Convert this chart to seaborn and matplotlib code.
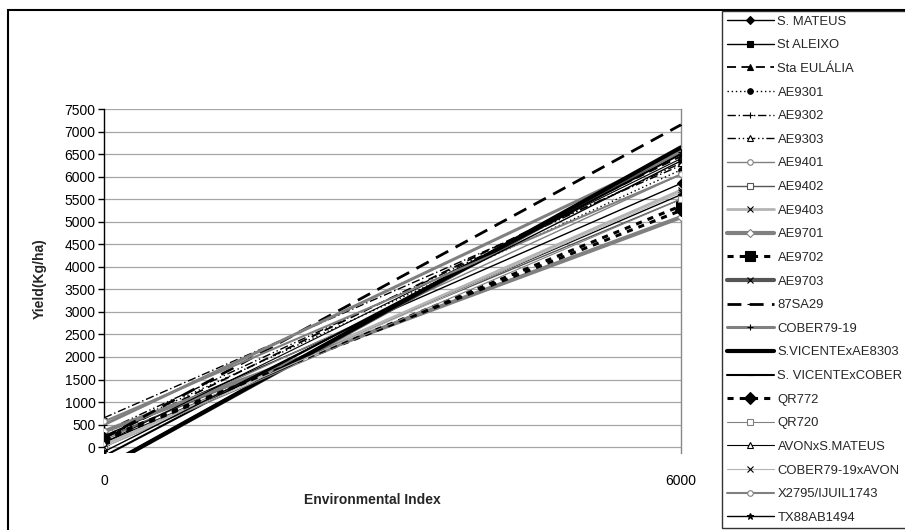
import matplotlib
matplotlib.use("Agg")
import matplotlib.pyplot as plt
import seaborn as sns
import pandas as pd
from matplotlib.patches import Rectangle

# ---------------- data ----------------
genotypes = ["S. MATEUS", "St ALEIXO", "Sta EULÁLIA", "AE9301", "AE9302", "AE9303",
             "AE9401", "AE9402", "AE9403", "AE9701", "AE9702", "AE9703", "87SA29",
             "COBER79-19", "S.VICENTExAE8303", "S. VICENTExCOBER", "QR772", "QR720",
             "AVONxS.MATEUS", "COBER79-19xAVON", "X2795/IJUIL1743", "TX88AB1494"]
yield_at_0 = [250, 100, 200, 300, 650, 350, 150, 200, 50, 350, 150, -450, 200,
              500, -450, -200, 200, 0, 100, 0, 570, -100]
yield_at_6000 = [5850, 5600, 6450, 6150, 6250, 6300, 6050, 5500, 5700, 5100, 5350,
                 6600, 7150, 6550, 6650, 6500, 5250, 5500, 6400, 5650, 6050, 6350]
env_index = [0, 6000]
y_ticks = list(range(0, 7501, 500))

# ---------------- styles ----------------
BLK, GRY, DGR, LGR = "#000000", "#808080", "#555555", "#b4b4b4"
styles = {
    "S. MATEUS":        dict(color=BLK, lw=1.0, ls="-", marker="D", ms=4, mfc=BLK),
    "St ALEIXO":        dict(color=BLK, lw=1.0, ls="-", marker="s", ms=4, mfc=BLK),
    "Sta EULÁLIA":      dict(color=BLK, lw=1.3, ls=(0, (5, 3)), marker="^", ms=5, mfc=BLK),
    "AE9301":           dict(color=BLK, lw=1.0, ls=(0, (1, 2)), marker="o", ms=4, mfc=BLK),
    "AE9302":           dict(color=BLK, lw=1.0, ls=(0, (6, 2, 1, 2)), marker="+", ms=5, mfc=BLK),
    "AE9303":           dict(color=BLK, lw=1.0, ls=(0, (6, 2, 1, 2, 1, 2)), marker="^", ms=5, mfc="white"),
    "AE9401":           dict(color=GRY, lw=1.0, ls="-", marker="o", ms=4, mfc="white"),
    "AE9402":           dict(color=DGR, lw=1.0, ls="-", marker="s", ms=4, mfc="white"),
    "AE9403":           dict(color=LGR, lw=2.0, ls="-", marker="x", ms=4, mfc=BLK, mec=BLK),
    "AE9701":           dict(color=GRY, lw=3.0, ls="-", marker="D", ms=4, mfc="white"),
    "AE9702":           dict(color=BLK, lw=2.2, ls=(0, (2, 2)), marker="s", ms=7, mfc=BLK),
    "AE9703":           dict(color=DGR, lw=3.0, ls="-", marker="x", ms=4, mfc=BLK, mec=BLK),
    "87SA29":           dict(color=BLK, lw=2.0, ls=(0, (5, 3)), marker="_", ms=4, mfc=BLK),
    "COBER79-19":       dict(color=GRY, lw=2.2, ls="-", marker="+", ms=5, mfc=BLK, mec=BLK),
    "S.VICENTExAE8303": dict(color=BLK, lw=3.0, ls="-", marker="None", ms=0),
    "S. VICENTExCOBER": dict(color=BLK, lw=1.5, ls="-", marker="_", ms=5, mfc=BLK),
    "QR772":            dict(color=BLK, lw=2.2, ls=(0, (2, 2)), marker="D", ms=6, mfc=BLK),
    "QR720":            dict(color=GRY, lw=0.8, ls="-", marker="s", ms=4, mfc="white"),
    "AVONxS.MATEUS":    dict(color=BLK, lw=0.8, ls="-", marker="^", ms=4, mfc="white"),
    "COBER79-19xAVON":  dict(color=LGR, lw=0.8, ls="-", marker="x", ms=4, mfc=BLK, mec=BLK),
    "X2795/IJUIL1743":  dict(color=GRY, lw=1.5, ls="-", marker="o", ms=4, mfc="white"),
    "TX88AB1494":       dict(color=BLK, lw=1.0, ls="-", marker="*", ms=5, mfc=BLK),
}

sns.set_theme(style="white")
plt.rcParams["font.family"] = ["Liberation Sans", "DejaVu Sans"]

W, H = 905, 530
fig = plt.figure(figsize=(W / 100, H / 100), dpi=100)
ax = fig.add_axes([104 / W, 1 - 453 / H, (681 - 104) / W, (453 - 109) / H])

for g, a, b in zip(genotypes, yield_at_0, yield_at_6000):
    df = pd.DataFrame({"Environmental Index": env_index, "Yield": [a, b]})
    st = dict(styles[g])
    mec = st.pop("mec", st["color"] if st.get("mfc", BLK) == "white" else BLK)
    sns.lineplot(data=df, x="Environmental Index", y="Yield", ax=ax, label=g,
                 color=st["color"], linewidth=st["lw"], linestyle=st["ls"],
                 marker=st["marker"], markersize=st["ms"],
                 markerfacecolor=st.get("mfc", BLK), markeredgecolor=mec,
                 markeredgewidth=0.8, zorder=3)

ax.set_xlim(0, 6000)
ax.set_ylim(-130, 7500)
ax.set_xticks(env_index)
ax.set_yticks(y_ticks)
ax.yaxis.grid(True, color="#a6a6a6", lw=0.9, ls="-")
ax.xaxis.grid(False)
for s in ["top", "bottom"]:
    ax.spines[s].set_visible(False)
ax.spines["left"].set_color(BLK)
ax.spines["left"].set_linewidth(1.0)
ax.spines["left"].set_bounds(0, 7500)
ax.spines["right"].set_color("#888888")
ax.spines["right"].set_linewidth(1.0)
ax.tick_params(axis="y", which="both", left=True, length=4, width=1, color=BLK,
               labelsize=10, labelcolor=BLK, pad=2)
ax.tick_params(axis="x", bottom=False, labelsize=10, labelcolor=BLK, pad=9)
ax.set_xlabel("")
ax.set_ylabel("")

fig.text(40 / W, 1 - 279 / H, "Yield(Kg/ha)", rotation=90, ha="center", va="center",
         fontsize=10, fontweight="bold")
fig.text(372 / W, 1 - 500 / H, "Environmental Index", ha="center", va="center",
         fontsize=10, fontweight="bold")

# chart border
fig.patches.append(Rectangle((8 / W, -0.1), 1.2, 1 - 10 / H + 0.1, transform=fig.transFigure,
                             fill=False, edgecolor=BLK, lw=1.5))

handles, labels = ax.get_legend_handles_labels()
ax.get_legend().remove()
leg = fig.legend(handles, labels, loc="upper left", bbox_to_anchor=(722 / W, 1 - 11 / H),
                 frameon=True, fancybox=False, fontsize=9.4, handlelength=3.6,
                 handletextpad=0.3, labelspacing=0.88, borderpad=0.35, borderaxespad=0)
leg.get_frame().set_edgecolor(BLK)
leg.get_frame().set_linewidth(1.0)

fig.savefig("out.png", dpi=100)
